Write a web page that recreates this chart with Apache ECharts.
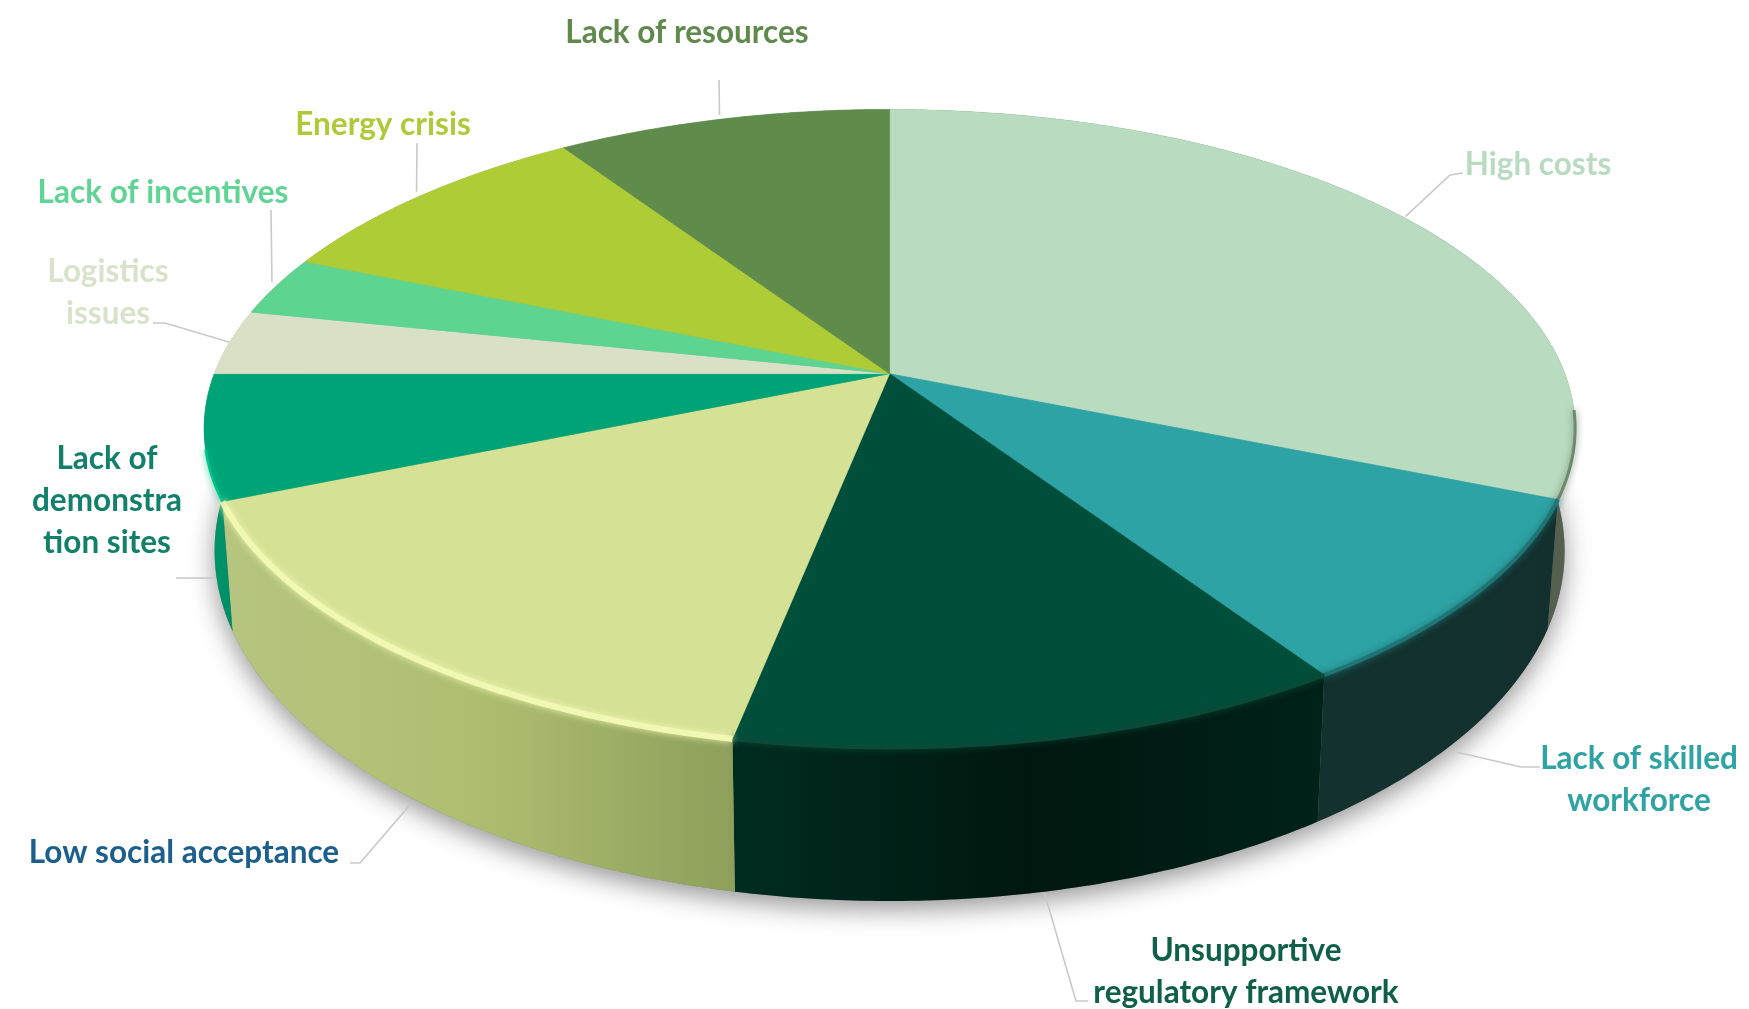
<!DOCTYPE html>
<html><head><meta charset="utf-8">
<style>html,body{margin:0;padding:0;background:#fff}#c{width:1749px;height:1009px}</style>
<script src="https://cdn.jsdelivr.net/npm/echarts@6/dist/echarts.min.js"></script>
</head><body><div id="c"></div>
<script>
// ---- data ----
const sliceNames = ['High costs','Lack of skilled\nworkforce','Unsupportive\nregulatory framework','Low social acceptance','Lack of\ndemonstra\ntion sites','Logistics\nissues','Lack of incentives','Energy crisis','Lack of resources'];
const sliceValues = [31.2, 9.5, 12.4, 15.6, 6.3, 3.3, 3, 9.4, 9.3];
// ---- styles ----
const topColors = ['#B9DBBF','#2EA3A5','#004F3B','#D5E195','#00A376','#D8E1C6','#5DD490','#AECC36','#5F8B4B'];
const labelColors = ['#B9DBBF','#2FA3A3','#0F5F4A','#1C5F8C','#12806A','#D9E3CB','#5FD494','#ADCB38','#5F8A4B'];
const sideStops = [
  ['#3B4C44','#55604E'],['#13322F','#13302F'],['#002C20','#00170F','#002219'],['#B6C57F','#AEBE70','#8E9F5B'],
  ['#00996E','#008C64'],['#999','#999'],['#999','#999'],['#999','#999'],['#999','#999']];
const rimColors = ['#6F8870','#1F7575','#0A4A38','#F1F8B2','#00C48A',null,null,null,null];
const rimWidths = [3,4,4,6,2.5,0,0,0,0];
const rimFrom = [0.86,0,0,0,0,0,0,0,0];
const rimTo = [1,1,1,1,0.4,0,0,0,0];
// ---- layout ----
const topDisc = {cx:889.6, cy:428.4, rx:685.5, ry:319};
const baseDisc = {cx:889.6, cy:551, rx:675, ry:350};
const tilt = -0.1715;
const labelCenters = [[1538,165],[1639,780],[1246,972],[184,853],[107,501],[108,293],[163,193],[383,125],[687,33]];
const leaderKnees = [[[1463,173],[1450,175]],[[1540,767],[1521,767]],[[1088,1001],[1076,1001]],[[350,863],[360,863]],[[176,578]],[[153,323],[165,323]],[[271,210]],[[417,143]],[[719,80]]];
const leaderOnBase = [false,true,true,true,true,false,false,false,false];
const leaderNudge = [[4,0],[-10,19],[0,1],[5,11],[1,18],[0,0],[-4,-4],[-4,-4],[-3,-4]];

const total = sliceValues.reduce((a,b)=>a+b,0);
let acc = 0;
const spans = sliceValues.map(v=>{const s=acc; acc+=v; return [s/total*2*Math.PI, acc/total*2*Math.PI];});

function project(d, th){
  const u=Math.sin(th), v=-Math.cos(th), q=1+tilt*v, s=Math.sqrt(1-tilt*tilt);
  return [d.cx+d.rx*s*u/q, d.cy+d.ry*(v+tilt)/q];
}
function arc(d,a,b){
  const n=Math.max(6,Math.ceil((b-a)/0.01)), pts=[];
  for(let i=0;i<=n;i++) pts.push(project(d,a+(b-a)*i/n));
  return pts;
}
const apex = [topDisc.cx, topDisc.cy+topDisc.ry*tilt];
const spanData = spans.map((s,i)=>({name:sliceNames[i], value:[s[0],s[1],sliceValues[i]]}));
const none = {coordinateSystem:'none', type:'custom', silent:true, animation:false, clip:false};

const option = {
  animation:false,
  backgroundColor:'#ffffff',
  series:[
    Object.assign({},none,{name:'shadow', z:1, data:[{value:[0,2*Math.PI]}],
      renderItem(){ return {type:'polygon', shape:{points:arc(baseDisc,0,2*Math.PI)},
        style:{fill:'#8a8a8a', shadowBlur:26, shadowColor:'rgba(0,0,0,0.42)', shadowOffsetY:8}}; }}),
    Object.assign({},none,{name:'sides', z:2, data:spanData,
      renderItem(p,api){
        const a=api.value(0), b=api.value(1), i=p.dataIndex;
        const pts=arc(topDisc,a,b).concat(arc(baseDisc,a,b).reverse());
        const st=sideStops[i];
        return {type:'polygon', shape:{points:pts},
          style:{fill:{type:'linear',x:0,y:0,x2:1,y2:0,colorStops:st.map((c,k)=>({offset:k/(st.length-1),color:c}))}}};
      }}),
    Object.assign({},none,{name:'faces', z:3, data:spanData,
      renderItem(p,api){
        const a=api.value(0), b=api.value(1), i=p.dataIndex;
        const pts=[apex].concat(arc(topDisc,a,b));
        return {type:'polygon', shape:{points:pts}, style:{fill:topColors[i], stroke:topColors[i], lineWidth:0.6}};
      }}),
    Object.assign({},none,{name:'rims', z:4, data:spanData,
      renderItem(p,api){
        const a=api.value(0), b=api.value(1), i=p.dataIndex;
        if(!rimColors[i]) return null;
        return {type:'polyline', shape:{points:arc(topDisc,a+(b-a)*rimFrom[i],a+(b-a)*rimTo[i])},
          style:{fill:null, stroke:rimColors[i], lineWidth:rimWidths[i], lineCap:'butt',
            shadowBlur:7, shadowColor:rimColors[i]}};
      }}),
    Object.assign({},none,{name:'leaders', z:5, data:spanData,
      renderItem(p,api){
        const i=p.dataIndex, mid=(api.value(0)+api.value(1))/2;
        const e=project(leaderOnBase[i]?baseDisc:topDisc,mid);
        const end=[e[0]+leaderNudge[i][0], e[1]+leaderNudge[i][1]];
        return {type:'polyline', shape:{points:leaderKnees[i].concat([end])},
          style:{fill:null, stroke:'#C9C9C9', lineWidth:1.6}};
      }}),
    Object.assign({},none,{name:'labels', z:6, data:spanData,
      renderItem(p){
        const i=p.dataIndex;
        return {type:'text', x:labelCenters[i][0], y:labelCenters[i][1],
          style:{text:sliceNames[i], fill:labelColors[i], align:'center', verticalAlign:'middle',
            fontFamily:'Lato', fontWeight:'bold', fontSize:31.5, lineHeight:42}};
      }})
  ]
};
echarts.init(document.getElementById('c'),null,{renderer:'canvas'}).setOption(option);
</script></body></html>
